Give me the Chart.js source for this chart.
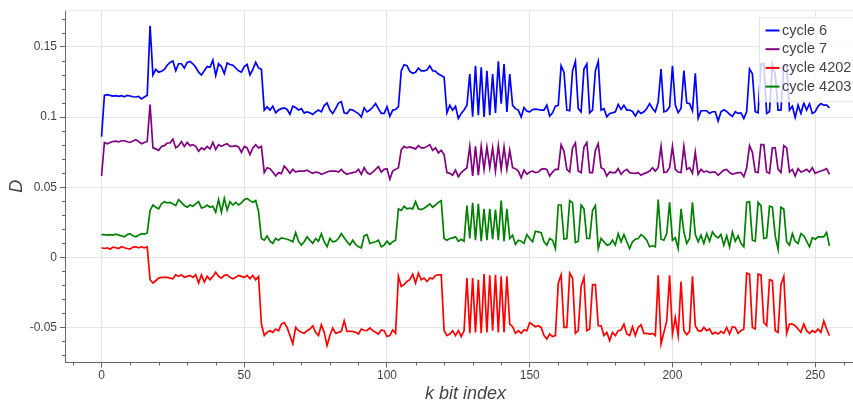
<!DOCTYPE html>
<html><head><meta charset="utf-8">
<script src="https://cdn.jsdelivr.net/npm/chart.js@4/dist/chart.umd.min.js"></script>
<style>
html,body{margin:0;padding:0;background:#fff;overflow:hidden;}
#wrap{width:853px;height:407px;overflow:hidden;position:relative;background:#fff;}
canvas{display:block;}
</style></head><body>
<div id="wrap"><canvas id="c" width="880" height="407" style="width:880px;height:407px"></canvas></div>
<script>
// k bit index 0..255
const kIndex = Array.from({length: 256}, (_, i) => i);

const cycle6 = [
0.0860,0.1155,0.1160,0.1155,0.1150,0.1153,0.1148,0.1153,0.1145,0.1155,0.1150,0.1145,0.1143,0.1148,0.1130,0.1143,
0.1155,0.1650,0.1300,0.1340,0.1320,0.1326,0.1340,0.1370,0.1390,0.1400,0.1330,0.1380,0.1380,0.1350,0.1390,0.1397,
0.1380,0.1355,0.1320,0.1300,0.1330,0.1360,0.1355,0.1406,0.1296,0.1380,0.1360,0.1310,0.1385,0.1375,0.1370,0.1350,
0.1330,0.1320,0.1360,0.1375,0.1300,0.1340,0.1390,0.1350,0.1340,0.1050,0.1073,0.1050,0.1077,0.1030,0.1050,0.1060,
0.1066,0.1054,0.1020,0.1077,0.1068,0.1050,0.1060,0.1030,0.1037,0.1030,0.1018,0.1037,0.1050,0.1037,0.1082,0.1100,
0.1050,0.1025,0.1060,0.1100,0.1110,0.1030,0.1025,0.1054,0.1050,0.1037,0.1025,0.1000,0.1066,0.1037,0.1050,0.1070,
0.1096,0.1060,0.1026,0.1026,0.1073,0.1005,0.1050,0.1054,0.1073,0.1330,0.1373,0.1366,0.1326,0.1312,0.1320,0.1350,
0.1330,0.1330,0.1336,0.1366,0.1330,0.1326,0.1307,0.1296,0.1284,0.1030,0.1084,0.1049,0.1077,0.0990,0.1026,0.1050,
0.1084,0.1307,0.1002,0.1366,0.1014,0.1354,0.1000,0.1330,0.1014,0.1307,0.1030,0.1397,0.1096,0.1378,0.1037,0.1307,
0.1084,0.1060,0.1050,0.1000,0.1068,0.1042,0.1037,0.1054,0.1056,0.1054,0.1050,0.1050,0.1084,0.1007,0.1030,0.1077,
0.1084,0.1366,0.1320,0.1050,0.1045,0.1330,0.1397,0.1060,0.1037,0.1342,0.1378,0.1030,0.1050,0.1330,0.1397,0.1050,
0.1060,0.1002,0.1026,0.1030,0.1037,0.1090,0.1054,0.1084,0.1050,0.1050,0.1040,0.1007,0.1045,0.1026,0.1038,0.1061,
0.1096,0.1061,0.1038,0.1108,0.1343,0.1038,0.1045,0.1073,0.1366,0.1085,0.1031,0.1061,0.1331,0.1101,0.1096,0.1045,
0.1312,0.0991,0.1045,0.1045,0.1045,0.1026,0.1038,0.1038,0.0972,0.1038,0.1052,0.1040,0.1020,0.1005,0.1038,0.1026,
0.1030,0.0990,0.1040,0.1343,0.1308,0.1038,0.1031,0.1378,0.1383,0.1026,0.1040,0.1378,0.1303,0.1050,0.1050,0.1366,
0.1366,0.1050,0.1077,0.0998,0.1085,0.1026,0.1101,0.1050,0.1096,0.1026,0.1038,0.1077,0.1096,0.1085,0.1085,0.1066
];

const cycle7 = [
0.0580,0.0819,0.0810,0.0819,0.0826,0.0829,0.0824,0.0831,0.0831,0.0824,0.0819,0.0829,0.0838,0.0826,0.0810,0.0819,
0.0826,0.1090,0.0780,0.0773,0.0763,0.0791,0.0796,0.0815,0.0815,0.0843,0.0780,0.0796,0.0826,0.0791,0.0819,0.0796,
0.0803,0.0791,0.0756,0.0780,0.0768,0.0791,0.0773,0.0819,0.0768,0.0803,0.0791,0.0803,0.0810,0.0791,0.0791,0.0796,
0.0787,0.0749,0.0791,0.0780,0.0733,0.0780,0.0803,0.0780,0.0791,0.0604,0.0639,0.0632,0.0608,0.0580,0.0604,0.0597,
0.0650,0.0627,0.0599,0.0627,0.0608,0.0615,0.0615,0.0615,0.0622,0.0608,0.0599,0.0608,0.0604,0.0592,0.0599,0.0608,
0.0615,0.0615,0.0615,0.0608,0.0627,0.0604,0.0592,0.0599,0.0604,0.0608,0.0627,0.0592,0.0639,0.0604,0.0592,0.0608,
0.0627,0.0646,0.0608,0.0627,0.0632,0.0557,0.0615,0.0627,0.0639,0.0768,0.0791,0.0780,0.0787,0.0780,0.0773,0.0796,
0.0780,0.0780,0.0791,0.0803,0.0763,0.0780,0.0744,0.0763,0.0733,0.0604,0.0599,0.0585,0.0622,0.0575,0.0604,0.0622,
0.0639,0.0791,0.0580,0.0791,0.0585,0.0791,0.0627,0.0787,0.0639,0.0780,0.0615,0.0796,0.0627,0.0787,0.0627,0.0763,
0.0639,0.0632,0.0615,0.0568,0.0622,0.0592,0.0608,0.0615,0.0604,0.0608,0.0627,0.0632,0.0627,0.0580,0.0608,0.0627,
0.0627,0.0803,0.0756,0.0627,0.0608,0.0780,0.0815,0.0615,0.0604,0.0787,0.0819,0.0604,0.0604,0.0763,0.0810,0.0639,
0.0627,0.0580,0.0608,0.0604,0.0604,0.0632,0.0592,0.0615,0.0627,0.0604,0.0600,0.0599,0.0604,0.0585,0.0597,0.0604,
0.0615,0.0639,0.0615,0.0639,0.0791,0.0604,0.0608,0.0639,0.0791,0.0627,0.0608,0.0604,0.0791,0.0627,0.0639,0.0599,
0.0749,0.0592,0.0627,0.0608,0.0615,0.0604,0.0608,0.0608,0.0585,0.0604,0.0622,0.0627,0.0604,0.0592,0.0599,0.0604,
0.0604,0.0575,0.0639,0.0796,0.0749,0.0608,0.0604,0.0803,0.0803,0.0608,0.0599,0.0780,0.0780,0.0627,0.0604,0.0796,
0.0780,0.0608,0.0627,0.0580,0.0632,0.0608,0.0615,0.0627,0.0608,0.0639,0.0599,0.0608,0.0615,0.0622,0.0632,0.0592
];

const cycle4202 = [
0.0068,0.0063,0.0068,0.0058,0.0073,0.0068,0.0063,0.0075,0.0068,0.0063,0.0058,0.0073,0.0075,0.0068,0.0075,0.0068,
0.0075,-0.0160,-0.0183,-0.0167,-0.0148,-0.0143,-0.0143,-0.0143,-0.0148,-0.0153,-0.0125,-0.0136,-0.0125,-0.0143,-0.0136,-0.0129,
-0.0143,-0.0125,-0.0183,-0.0125,-0.0176,-0.0136,-0.0160,-0.0136,-0.0106,-0.0136,-0.0148,-0.0129,-0.0125,-0.0143,-0.0153,-0.0143,
-0.0129,-0.0136,-0.0143,-0.0129,-0.0153,-0.0129,-0.0160,-0.0136,-0.0476,-0.0558,-0.0535,-0.0523,-0.0535,-0.0511,-0.0523,-0.0476,
-0.0465,-0.0500,-0.0558,-0.0617,-0.0500,-0.0523,-0.0535,-0.0542,-0.0523,-0.0511,-0.0488,-0.0535,-0.0558,-0.0481,-0.0535,-0.0629,
-0.0558,-0.0504,-0.0542,-0.0535,-0.0528,-0.0453,-0.0528,-0.0528,-0.0528,-0.0535,-0.0547,-0.0511,-0.0520,-0.0523,-0.0504,-0.0523,
-0.0535,-0.0547,-0.0518,-0.0523,-0.0565,-0.0558,-0.0518,-0.0542,-0.0136,-0.0207,-0.0195,-0.0172,-0.0160,-0.0120,-0.0183,-0.0113,
-0.0160,-0.0148,-0.0172,-0.0148,-0.0153,-0.0129,-0.0125,-0.0125,-0.0523,-0.0558,-0.0547,-0.0523,-0.0558,-0.0523,-0.0565,-0.0523,
-0.0148,-0.0542,-0.0148,-0.0535,-0.0160,-0.0542,-0.0120,-0.0535,-0.0129,-0.0523,-0.0125,-0.0535,-0.0136,-0.0535,-0.0136,-0.0476,
-0.0495,-0.0542,-0.0523,-0.0542,-0.0518,-0.0523,-0.0465,-0.0481,-0.0495,-0.0488,-0.0500,-0.0558,-0.0582,-0.0547,-0.0565,-0.0558,
-0.0183,-0.0125,-0.0500,-0.0500,-0.0113,-0.0148,-0.0542,-0.0523,-0.0207,-0.0143,-0.0523,-0.0511,-0.0195,-0.0195,-0.0488,-0.0488,
-0.0558,-0.0535,-0.0594,-0.0535,-0.0558,-0.0523,-0.0518,-0.0476,-0.0547,-0.0558,-0.0495,-0.0558,-0.0500,-0.0481,-0.0542,-0.0542,
-0.0547,-0.0542,-0.0558,-0.0129,-0.0617,-0.0535,-0.0453,-0.0129,-0.0547,-0.0429,-0.0558,-0.0172,-0.0523,-0.0551,-0.0528,-0.0136,
-0.0488,-0.0523,-0.0528,-0.0500,-0.0523,-0.0511,-0.0547,-0.0535,-0.0547,-0.0528,-0.0542,-0.0500,-0.0547,-0.0495,-0.0500,-0.0542,
-0.0523,-0.0511,-0.0113,-0.0120,-0.0500,-0.0511,-0.0120,-0.0125,-0.0465,-0.0488,-0.0160,-0.0167,-0.0523,-0.0535,-0.0195,-0.0136,
-0.0542,-0.0476,-0.0476,-0.0488,-0.0511,-0.0535,-0.0476,-0.0523,-0.0542,-0.0523,-0.0535,-0.0511,-0.0535,-0.0453,-0.0511,-0.0558
];

const cycle4203 = [
0.0162,0.0162,0.0158,0.0162,0.0158,0.0165,0.0158,0.0153,0.0146,0.0162,0.0169,0.0153,0.0146,0.0158,0.0169,0.0165,
0.0174,0.0334,0.0373,0.0357,0.0345,0.0381,0.0397,0.0388,0.0392,0.0381,0.0369,0.0411,0.0392,0.0369,0.0357,0.0373,
0.0364,0.0381,0.0397,0.0352,0.0357,0.0373,0.0357,0.0364,0.0322,0.0411,0.0322,0.0420,0.0338,0.0397,0.0373,0.0392,
0.0373,0.0388,0.0411,0.0420,0.0404,0.0392,0.0404,0.0327,0.0134,0.0122,0.0153,0.0115,0.0099,0.0134,0.0122,0.0139,
0.0134,0.0129,0.0122,0.0111,0.0176,0.0115,0.0087,0.0111,0.0146,0.0122,0.0099,0.0134,0.0115,0.0169,0.0111,0.0075,
0.0134,0.0111,0.0115,0.0134,0.0169,0.0139,0.0111,0.0087,0.0122,0.0092,0.0075,0.0068,0.0153,0.0162,0.0099,0.0106,
0.0111,0.0122,0.0075,0.0087,0.0115,0.0092,0.0111,0.0122,0.0345,0.0334,0.0364,0.0345,0.0350,0.0345,0.0397,0.0345,
0.0341,0.0350,0.0364,0.0381,0.0357,0.0373,0.0392,0.0404,0.0134,0.0122,0.0134,0.0139,0.0146,0.0115,0.0129,0.0115,
0.0369,0.0134,0.0388,0.0122,0.0381,0.0115,0.0345,0.0122,0.0345,0.0129,0.0341,0.0122,0.0404,0.0115,0.0345,0.0134,
0.0158,0.0092,0.0122,0.0115,0.0099,0.0162,0.0134,0.0111,0.0186,0.0181,0.0176,0.0111,0.0087,0.0134,0.0122,0.0063,
0.0373,0.0373,0.0129,0.0134,0.0404,0.0388,0.0106,0.0115,0.0373,0.0345,0.0134,0.0134,0.0334,0.0369,0.0063,0.0134,
0.0111,0.0087,0.0092,0.0122,0.0087,0.0169,0.0111,0.0162,0.0111,0.0063,0.0111,0.0129,0.0134,0.0162,0.0146,0.0122,
0.0075,0.0082,0.0075,0.0411,0.0129,0.0122,0.0169,0.0392,0.0122,0.0139,0.0063,0.0345,0.0181,0.0099,0.0134,0.0392,
0.0162,0.0111,0.0158,0.0099,0.0169,0.0115,0.0181,0.0153,0.0139,0.0162,0.0087,0.0153,0.0075,0.0181,0.0115,0.0153,
0.0099,0.0075,0.0392,0.0397,0.0122,0.0115,0.0392,0.0369,0.0134,0.0139,0.0364,0.0357,0.0153,0.0058,0.0357,0.0345,
0.0111,0.0087,0.0169,0.0115,0.0099,0.0169,0.0153,0.0115,0.0075,0.0139,0.0129,0.0146,0.0146,0.0146,0.0176,0.0082
];

const seriesNames = ['cycle 6', 'cycle 7', 'cycle 4202', 'cycle 4203'];
const seriesColors = ['#0000ff', '#800080', '#ff0000', '#008000'];
const seriesValues = [cycle6, cycle7, cycle4202, cycle4203];

const xMajorTicks = [0, 50, 100, 150, 200, 250];
const xTickLabels = ['0', '50', '100', '150', '200', '250'];
const xMinorTicks = [-10,10,20,30,40,60,70,80,90,110,120,130,140,160,170,180,190,210,220,230,240,260];
const yMajorTicks = [-0.05, 0, 0.05, 0.1, 0.15];
const yTickLabels = ['-0.05', '0', '0.05', '0.1', '0.15'];
const yMinorTicks = [-0.07,-0.06,-0.04,-0.03,-0.02,-0.01,0.01,0.02,0.03,0.04,0.06,0.07,0.08,0.09,0.11,0.12,0.13,0.14,0.16,0.17];

const AXIS = '#666666';
const TEXT = '#444444';
const GRID = '#e5e5e5';
const FONT = "'Liberation Sans', Arial, sans-serif";

const decor = {
  id: 'decor',
  beforeDatasetsDraw(chart) {
    const {ctx, chartArea: a} = chart;
    ctx.save();
    ctx.strokeStyle = GRID;
    ctx.lineWidth = 1;
    ctx.beginPath();
    ctx.moveTo(a.left, a.top + 0.5);
    ctx.lineTo(a.right, a.top + 0.5);
    ctx.moveTo(a.right - 0.5, a.top);
    ctx.lineTo(a.right - 0.5, a.bottom);
    ctx.stroke();
    ctx.restore();
  },
  afterDraw(chart) {
    const {ctx, chartArea: a, scales} = chart;
    ctx.save();
    // minor ticks
    ctx.strokeStyle = AXIS;
    ctx.lineWidth = 1;
    ctx.beginPath();
    xMinorTicks.forEach(v => {
      const px = Math.round(scales.x.getPixelForValue(v)) + 0.5;
      ctx.moveTo(px, a.bottom);
      ctx.lineTo(px, a.bottom + 3);
    });
    yMinorTicks.forEach(v => {
      const py = Math.round(scales.y.getPixelForValue(v)) + 0.5;
      ctx.moveTo(a.left - 3, py);
      ctx.lineTo(a.left, py);
    });
    ctx.stroke();
    // legend box
    const w = 97, h = 85;
    const right = a.right - 10, top = a.top + 7;
    const left = right - w;
    ctx.fillStyle = 'rgba(255,255,255,0.8)';
    ctx.fillRect(left, top, w, h);
    ctx.strokeStyle = GRID;
    ctx.strokeRect(left + 0.5, top + 0.5, w - 1, h - 1);
    ctx.font = '14.5px ' + FONT;
    ctx.textBaseline = 'middle';
    ctx.textAlign = 'left';
    chart.data.datasets.forEach((ds, i) => {
      const y = top + 13.3 + i * 18.7;
      ctx.strokeStyle = ds.borderColor;
      ctx.lineWidth = 2;
      ctx.beginPath();
      ctx.moveTo(left + 6.5, y);
      ctx.lineTo(left + 20.5, y);
      ctx.stroke();
      ctx.fillStyle = TEXT;
      ctx.fillText(ds.label, left + 23, y);
    });
    ctx.restore();
  }
};

new Chart(document.getElementById('c'), {
  type: 'line',
  data: {
    datasets: seriesValues.map((vals, s) => ({
      label: seriesNames[s],
      data: vals.map((v, i) => ({x: kIndex[i], y: v})),
      borderColor: seriesColors[s],
      backgroundColor: seriesColors[s],
      borderWidth: 1.7,
      pointRadius: 0,
      tension: 0,
      fill: false
    }))
  },
  options: {
    responsive: false,
    animation: false,
    devicePixelRatio: 1,
    layout: {padding: {top: 5, right: 14, bottom: 0, left: 0}},
    plugins: {legend: {display: false}, tooltip: {enabled: false}},
    scales: {
      x: {
        type: 'linear', min: -12.8, max: 267.8,
        afterBuildTicks: s => { s.ticks = xMajorTicks.map(v => ({value: v})); },
        afterFit: s => { s.height = 44.5; },
        ticks: {
          autoSkip: false, maxRotation: 0, padding: 1, color: TEXT,
          font: {family: FONT, size: 12},
          callback: v => { const i = xMajorTicks.indexOf(v); return i >= 0 ? xTickLabels[i] : ''; }
        },
        grid: {color: GRID, lineWidth: 1, tickColor: AXIS, tickLength: 5, drawTicks: true},
        border: {color: AXIS, width: 1},
        title: {display: true, text: 'k bit index', color: TEXT,
          font: {family: FONT, size: 18, style: 'italic'}, padding: {top: 0, bottom: 2}}
      },
      y: {
        type: 'linear', min: -0.075, max: 0.1762,
        afterBuildTicks: s => { s.ticks = yMajorTicks.map(v => ({value: v})); },
        afterFit: s => { s.width = 65; },
        ticks: {
          autoSkip: false, padding: 3, color: TEXT,
          font: {family: FONT, size: 12},
          callback: v => { const i = yMajorTicks.indexOf(v); return i >= 0 ? yTickLabels[i] : ''; }
        },
        grid: {color: GRID, lineWidth: 1, tickColor: AXIS, tickLength: 5, drawTicks: true},
        border: {color: AXIS, width: 1},
        title: {display: true, text: 'D', color: TEXT,
          font: {family: FONT, size: 18, style: 'italic'}, padding: {top: 6, bottom: 0}}
      }
    }
  },
  plugins: [decor]
});
</script>
</body></html>
